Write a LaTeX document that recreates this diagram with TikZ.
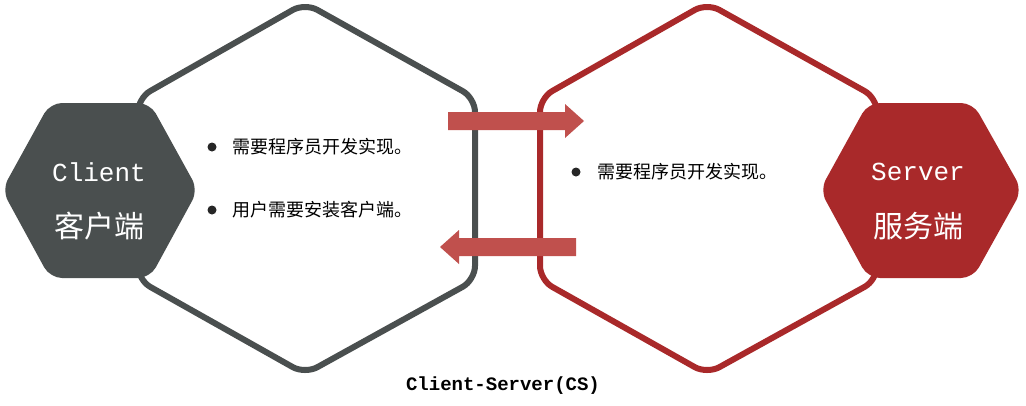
\documentclass[tikz,border=0pt]{standalone}
\usepackage{fontspec}
\newfontfamily\cjk{Noto Sans CJK SC}
\newfontfamily\mono{Liberation Mono}
\begin{document}
\begin{tikzpicture}[x=1pt,y=-1pt,
  bighex/.style={line width=6pt,rounded corners=14pt,fill=white},
  smallhex/.style={rounded corners=12pt},
  arr/.style={fill=arrred,draw=none},
  bul/.style={circle,fill=black!85,inner sep=0pt,minimum size=9pt},
  txt/.style={anchor=west,font=\cjk\fontsize{18}{20}\selectfont,inner sep=0pt}]
\definecolor{darkg}{HTML}{4A4F4F}
\definecolor{srvred}{HTML}{A9292A}
\definecolor{arrred}{HTML}{C0504D}
\useasboundingbox (0,0) rectangle (1026,405);
% big hexagons
\draw[bighex,draw=darkg] (305,3) -- (475,98) -- (475,280) -- (305,374) -- (138,280) -- (138,98) -- cycle;
\draw[bighex,draw=srvred] (707,3) -- (877,98) -- (877,280) -- (707,374) -- (540,280) -- (540,98) -- cycle;
% arrows
\fill[arr] (448,112) -- (565,112) -- (565,104) -- (584,121) -- (565,138) -- (565,130) -- (448,130) -- cycle;
\fill[arr] (576,238) -- (459,238) -- (459,230) -- (440,247) -- (459,264) -- (459,256) -- (576,256) -- cycle;
% small hexagons
\fill[smallhex,darkg] (2,190) -- (50,103) -- (150,103) -- (198,190) -- (150,278) -- (50,278) -- cycle;
\fill[smallhex,srvred] (820,190) -- (868,103) -- (973,103) -- (1022,190) -- (973,278) -- (868,278) -- cycle;
\node[text=white,font=\mono\fontsize{26}{28}\selectfont] (cl) at (99,172) {Client};
\node[text=white,font=\cjk\fontsize{30}{32}\selectfont] (clz) at (99,226) {客户端};
\node[text=white,font=\mono\fontsize{26}{28}\selectfont] (sv) at (918,172) {Server};
\node[text=white,font=\cjk\fontsize{30}{32}\selectfont] (svz) at (918,226) {服务端};
% bullets
\node[bul] (b1) at (212,147) {};
\node[txt] (t1) at (232,147) {需要程序员开发实现。};
\node[bul] (b2) at (212,210) {};
\node[txt] (t2) at (232,210) {用户需要安装客户端。};
\node[bul] (b3) at (576,172) {};
\node[txt] (t3) at (597,172) {需要程序员开发实现。};
\node[font=\mono\bfseries\fontsize{19}{21}\selectfont] (cap) at (503,386) {Client-Server(CS)};
\end{tikzpicture}
\end{document}
